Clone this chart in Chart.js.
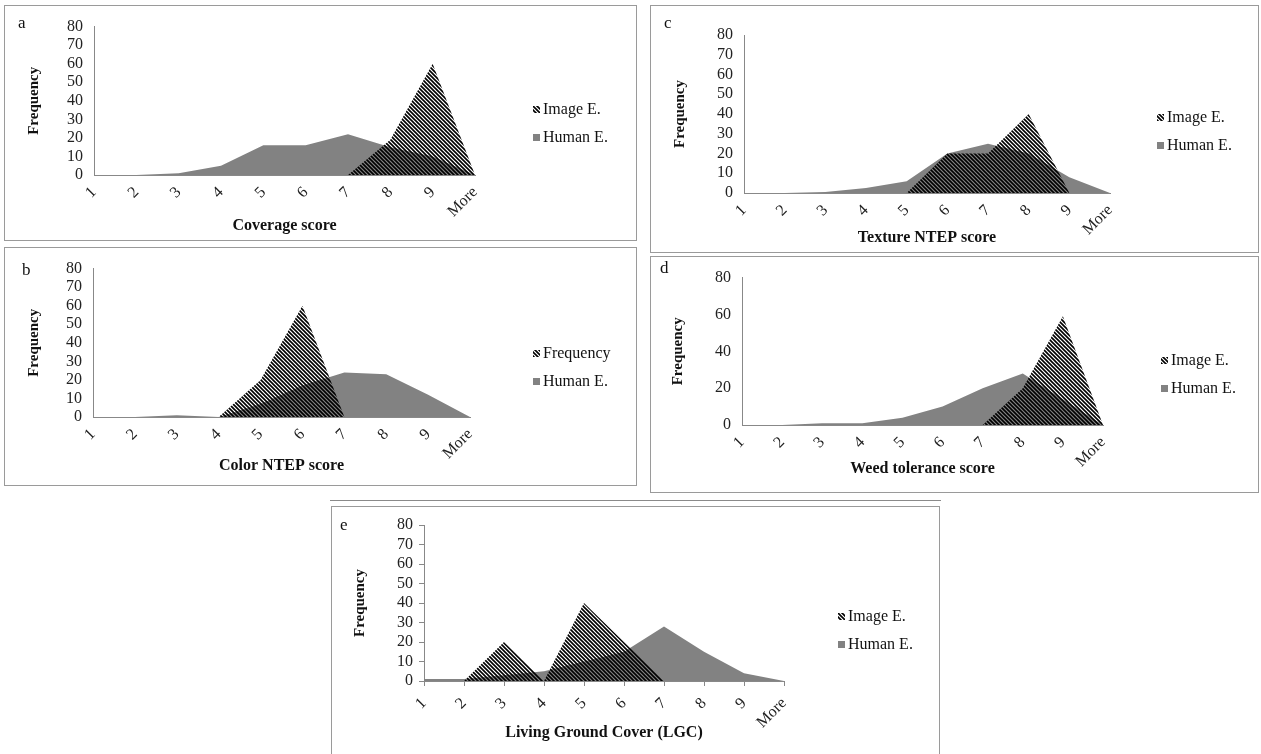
<!DOCTYPE html>
<html>
<head>
<meta charset="utf-8">
<script src="https://cdn.jsdelivr.net/npm/chart.js@4.4.1/dist/chart.umd.min.js"></script>
<style>
  body { margin: 0; background: #fff; width: 1261px; height: 754px; overflow: hidden; position: relative; font-family: "Liberation Serif", "Times New Roman", serif; }
  .panel { position: absolute; border: 1px solid #9a9a9a; box-sizing: border-box; background: #fff; }
  .panel canvas { position: absolute; left: 0; top: 0; }
  .letter { position: absolute; font-size: 17px; line-height: 18px; color: #111; }
  #sep { position: absolute; left: 330px; top: 500px; width: 611px; border-top: 1px solid #8a8a8a; }
</style>
</head>
<body>
<div id="sep"></div>
<script>
/* Image vs human evaluation — frequency distributions */

// ===== data =====
var scores = ["1", "2", "3", "4", "5", "6", "7", "8", "9", "More"];

var coverageImage = [0, 0, 0, 0, 0, 0, 0, 19, 60, 0];
var coverageHuman = [0, 0, 1, 5, 16, 16, 22, 15, 10, 0];

var colorImage = [0, 0, 0, 0, 20, 60, 0, 0, 0, 0];
var colorHuman = [0, 0, 1, 0, 7, 17, 24, 23, 12, 0];

var textureImage = [0, 0, 0, 0, 0, 20, 20, 40, 0, 0];
var textureHuman = [0, 0, 0.5, 2.5, 6, 20, 25, 20, 8, 0];

var weedImage = [0, 0, 0, 0, 0, 0, 0, 20, 59, 0];
var weedHuman = [0, 0, 1, 1, 4, 10, 20, 28, 14, 0];

var lgcImage = [0, 0, 20, 0, 40, 20, 0, 0, 0, 0];
var lgcHuman = [1, 1, 3, 5, 10, 15, 28, 15, 4, 0];

// ===== layout (page pixels) =====
var panels = [
  { letter: "a", box: [4, 5, 637, 241], axisX: 94, moreX: 475, y80: 25, y0: 175, xTitleY: 226, yTitleX: 34,
    letterXY: [22, 23], legendXY: [533, 110], title: "Coverage score", imageLabel: "Image E.",
    image: coverageImage, human: coverageHuman, step: 10, ticks: false },
  { letter: "b", box: [4, 247, 637, 486], axisX: 93, moreX: 470, y80: 268, y0: 417, xTitleY: 466, yTitleX: 34,
    letterXY: [26, 270], legendXY: [533, 354], title: "Color NTEP score", imageLabel: "Frequency",
    image: colorImage, human: colorHuman, step: 10, ticks: false },
  { letter: "c", box: [650, 5, 1259, 253], axisX: 744, moreX: 1110, y80: 35, y0: 193, xTitleY: 238, yTitleX: 680,
    letterXY: [668, 23], legendXY: [1157, 118], title: "Texture NTEP score", imageLabel: "Image E.",
    image: textureImage, human: textureHuman, step: 10, ticks: false },
  { letter: "d", box: [650, 256, 1259, 493], axisX: 742, moreX: 1103, y80: 274, y0: 425, xTitleY: 469, yTitleX: 678,
    letterXY: [664, 268], legendXY: [1161, 361], title: "Weed tolerance score", imageLabel: "Image E.",
    image: weedImage, human: weedHuman, step: 20, ticks: false },
  { letter: "e", box: [331, 506, 940, 766], axisX: 424, moreX: 784, y80: 525, y0: 681, xTitleY: 733, yTitleX: 360,
    letterXY: [344, 525], legendXY: [838, 617], title: "Living Ground Cover (LGC)", imageLabel: "Image E.",
    image: lgcImage, human: lgcHuman, step: 10, ticks: true }
];

var FONT = '"Liberation Serif", "Times New Roman", serif';
Chart.defaults.font.family = FONT;
Chart.defaults.color = "#111";

// 斜線パターン
function makeHatch() {
  var s = 4;
  var c = document.createElement("canvas");
  c.width = s; c.height = s;
  var g = c.getContext("2d");
  g.strokeStyle = "#000";
  g.lineWidth = 1.6;
  g.beginPath();
  g.moveTo(0, 0); g.lineTo(s, s);
  g.moveTo(-1, s - 1); g.lineTo(1, s + 1);
  g.moveTo(s - 1, -1); g.lineTo(s + 1, 1);
  g.stroke();
  return g.createPattern(c, "repeat");
}

// 凡例（右側）
var sideLegend = {
  id: "sideLegend",
  afterDraw: function (chart, args, opts) {
    var ctx = chart.ctx;
    ctx.save();
    ctx.font = "16px " + FONT;
    ctx.textBaseline = "middle";
    chart.data.datasets.forEach(function (ds, i) {
      var y = opts.y + i * opts.gap;
      ctx.fillStyle = ds.backgroundColor;
      ctx.fillRect(opts.x, y - 4, 7, 7);
      ctx.fillStyle = "#111";
      ctx.fillText(ds.label, opts.x + 10, y);
    });
    ctx.restore();
  }
};

var hatch = makeHatch();
var LH = 16 * 1.2;

panels.forEach(function (p) {
  var L = p.box[0], T = p.box[1], W = p.box[2] - L, H = p.box[3] - T;
  var div = document.createElement("div");
  div.className = "panel";
  div.style.left = L + "px"; div.style.top = T + "px";
  div.style.width = W + "px"; div.style.height = H + "px";
  document.body.appendChild(div);

  var cw = W - 2, ch = H - 2, ox = L + 1, oy = T + 1;
  var canvas = document.createElement("canvas");
  canvas.width = cw; canvas.height = ch;
  div.appendChild(canvas);

  var lt = document.createElement("div");
  lt.className = "letter";
  lt.textContent = p.letter;
  lt.style.left = (p.letterXY[0] - 4 - L - 1) + "px";
  lt.style.top = (p.letterXY[1] - 9 - T - 1) + "px";
  div.appendChild(lt);

  var areaLeft = p.axisX - ox, areaTop = p.y80 - oy, areaBottom = p.y0 - oy, areaRight = p.moreX - ox;
  var gridOpts = p.ticks
    ? { display: true, drawOnChartArea: false, drawTicks: true, tickLength: 5, color: "#888" }
    : { display: false, drawTicks: false };

  new Chart(canvas, {
    type: "line",
    data: {
      labels: scores,
      datasets: [
        { label: p.imageLabel, data: p.image, fill: "origin", backgroundColor: hatch,
          borderWidth: 0, pointRadius: 0, tension: 0 },
        { label: "Human E.", data: p.human, fill: "origin", backgroundColor: "#828282",
          borderWidth: 0, pointRadius: 0, tension: 0 }
      ]
    },
    options: {
      responsive: false, animation: false,
      layout: { padding: { top: areaTop, right: cw - areaRight, left: 0, bottom: 0 } },
      plugins: {
        legend: { display: false },
        tooltip: { enabled: false },
        sideLegend: { x: p.legendXY[0] - ox, y: p.legendXY[1] - oy, gap: 28 }
      },
      scales: {
        x: {
          offset: false,
          grid: gridOpts,
          border: { display: true, color: "#888", width: 1 },
          ticks: { autoSkip: false, minRotation: 45, maxRotation: 45, padding: 8, font: { size: 16 }, color: "#222" },
          title: { display: true, text: p.title, font: { size: 16, weight: "bold" }, color: "#111",
                   padding: { top: 0, bottom: (ch - (p.xTitleY - oy)) - LH / 2 } },
          afterFit: function (s) { s.height = ch - areaBottom; }
        },
        y: {
          min: 0, max: 80,
          grid: gridOpts,
          border: { display: true, color: "#888", width: 1 },
          ticks: { autoSkip: false, stepSize: p.step, padding: p.ticks ? 6 : 11, font: { size: 16 }, color: "#222" },
          title: { display: true, text: "Frequency", font: { size: 15, weight: "bold" }, color: "#111",
                   padding: { top: (p.yTitleX - ox) - 9, bottom: 0 } },
          afterFit: function (s) { s.width = areaLeft; }
        }
      }
    },
    plugins: [sideLegend]
  });
});
</script>
</body>
</html>
